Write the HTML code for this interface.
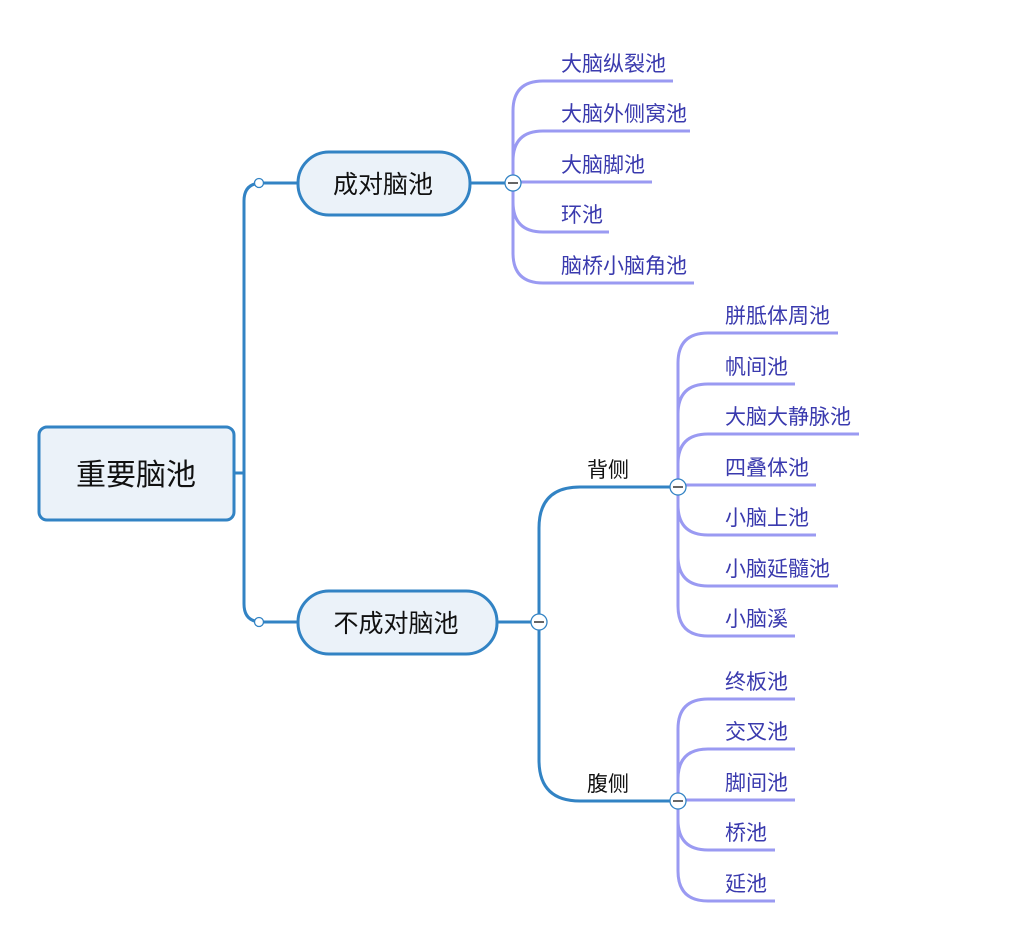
<!DOCTYPE html>
<html><head><meta charset="utf-8"><style>
html,body{margin:0;padding:0;background:#fff;}
svg{display:block;}
text{font-family:"Liberation Sans","Noto Sans CJK SC",sans-serif;}
.lf{fill:#3a3aae;font-size:21px;}
.lp{fill:none;stroke:#9a9af2;stroke-width:3;}
.bp{fill:none;stroke:#3283c4;stroke-width:3;}
</style></head><body>
<svg width="1020" height="931" viewBox="0 0 1020 931">
<path class="bp" d="M234 473 H244"/>
<path class="bp" d="M298 183 H262 Q244 183 244 201 V604 Q244 622 262 622 H298"/>
<path class="bp" d="M470 183 H513"/>
<path class="bp" d="M497 622 H539"/>
<path class="bp" d="M678 487 H580 Q539 487 539 528 V760 Q539 801 580 801 H678"/>
<g class="lp">
<path d="M513 183 V111 Q513 81 543 81 H673"/>
<path d="M513 183 V161 Q513 131 543 131 H690"/>
<path d="M513 182 H652"/>
<path d="M513 183 V202 Q513 232 543 232 H609"/>
<path d="M513 183 V253 Q513 283 543 283 H694"/>
<path d="M678 487 V363 Q678 333 708 333 H838"/>
<path d="M678 487 V414 Q678 384 708 384 H795"/>
<path d="M678 487 V464 Q678 434 708 434 H859"/>
<path d="M678 485 H816"/>
<path d="M678 487 V505 Q678 535 708 535 H816"/>
<path d="M678 487 V556 Q678 586 708 586 H838"/>
<path d="M678 487 V606 Q678 636 708 636 H795"/>
<path d="M678 801 V729 Q678 699 708 699 H795"/>
<path d="M678 801 V779 Q678 749 708 749 H795"/>
<path d="M678 800 H795"/>
<path d="M678 801 V820 Q678 850 708 850 H775"/>
<path d="M678 801 V871 Q678 901 708 901 H775"/>
</g>
<rect x="39" y="427" width="195" height="93" rx="8" fill="#ebf2f9" stroke="#3283c4" stroke-width="3"/>
<text x="136" y="485" font-size="30" text-anchor="middle" fill="#111">重要脑池</text>
<rect x="298" y="152" width="172" height="63" rx="31" fill="#ebf2f9" stroke="#3283c4" stroke-width="3"/>
<text x="383" y="193" font-size="25" text-anchor="middle" fill="#111">成对脑池</text>
<rect x="298" y="591" width="199" height="63" rx="31" fill="#ebf2f9" stroke="#3283c4" stroke-width="3"/>
<text x="396" y="632" font-size="25" text-anchor="middle" fill="#111">不成对脑池</text>
<text x="587" y="477" font-size="21" fill="#111">背侧</text>
<text x="587" y="791" font-size="21" fill="#111">腹侧</text>
<circle cx="259" cy="183" r="4.5" fill="#fff" stroke="#3283c4" stroke-width="1.3"/>
<circle cx="259" cy="622" r="4.5" fill="#fff" stroke="#3283c4" stroke-width="1.3"/>
<g fill="#fff" stroke="#3283c4" stroke-width="1.3">
<circle cx="513" cy="183" r="8"/>
<circle cx="539" cy="622" r="8"/>
<circle cx="678" cy="487" r="8"/>
<circle cx="678" cy="801" r="8"/>
</g>
<g stroke="#666" stroke-width="2">
<path d="M508 183 H518"/><path d="M534 622 H544"/><path d="M673 487 H683"/><path d="M673 801 H683"/>
</g>
<text class="lf" x="561" y="71">大脑纵裂池</text>
<text class="lf" x="561" y="121">大脑外侧窝池</text>
<text class="lf" x="561" y="172">大脑脚池</text>
<text class="lf" x="561" y="222">环池</text>
<text class="lf" x="561" y="273">脑桥小脑角池</text>
<text class="lf" x="725" y="323">胼胝体周池</text>
<text class="lf" x="725" y="374">帆间池</text>
<text class="lf" x="725" y="424">大脑大静脉池</text>
<text class="lf" x="725" y="475">四叠体池</text>
<text class="lf" x="725" y="525">小脑上池</text>
<text class="lf" x="725" y="576">小脑延髓池</text>
<text class="lf" x="725" y="626">小脑溪</text>
<text class="lf" x="725" y="689">终板池</text>
<text class="lf" x="725" y="739">交叉池</text>
<text class="lf" x="725" y="790">脚间池</text>
<text class="lf" x="725" y="840">桥池</text>
<text class="lf" x="725" y="891">延池</text>
</svg>
</body></html>
